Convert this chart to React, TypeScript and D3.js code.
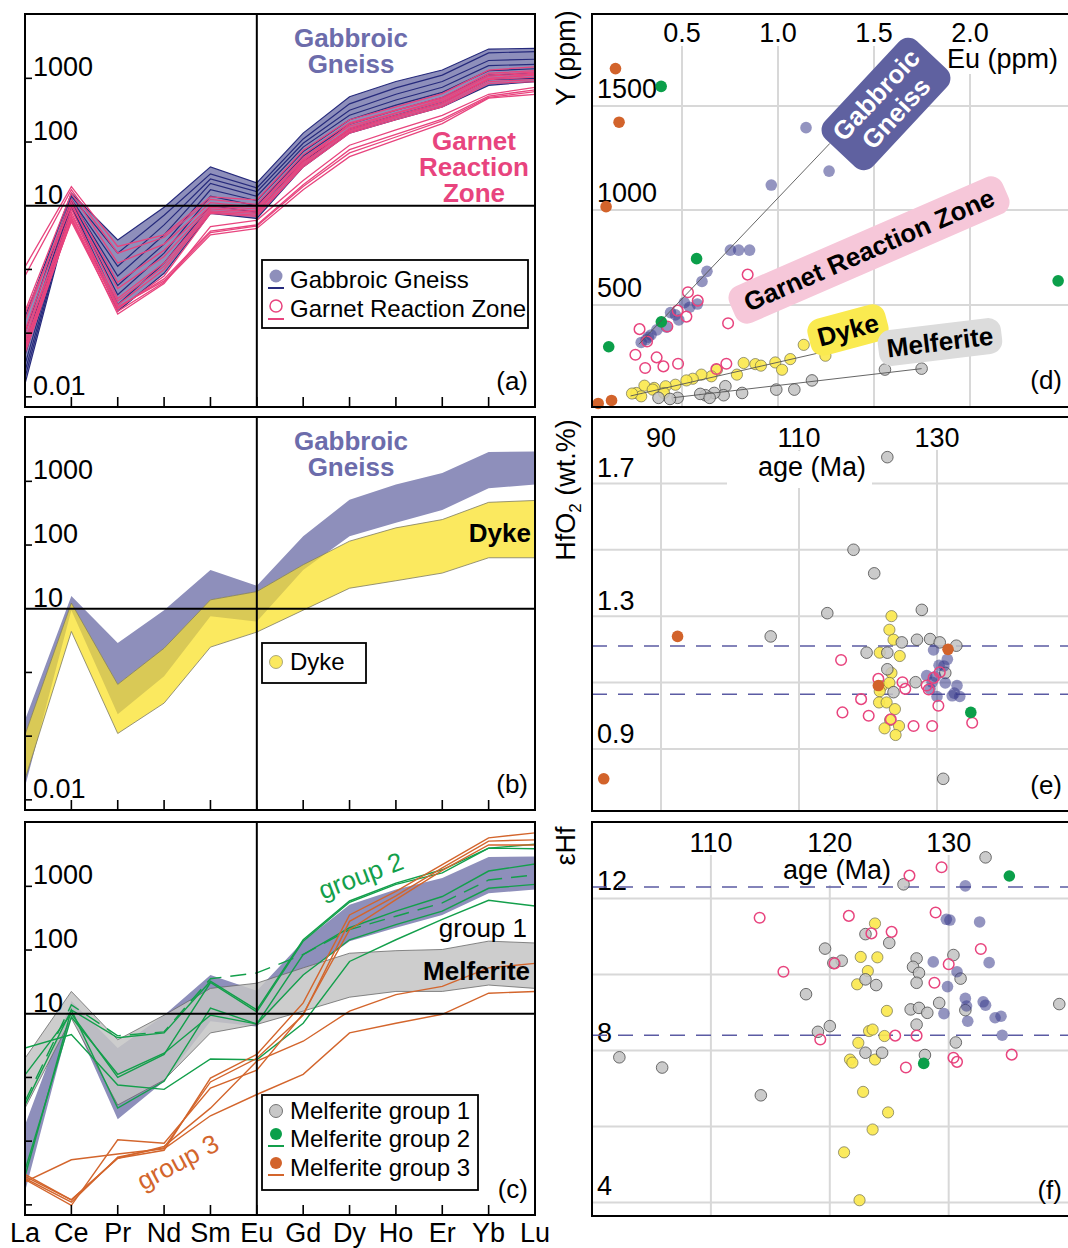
import React from 'react';
import * as d3 from 'd3';

// REE spider diagrams (a-c) and zircon scatter plots (d-f)

const REE = ['La', 'Ce', 'Pr', 'Nd', 'Sm', 'Eu', 'Gd', 'Dy', 'Ho', 'Er', 'Yb', 'Lu'];

// chondrite-normalised values
const gabbroUpper = [0.18, 15.8, 2.9, 9.5, 40.7, 22.9, 138, 513, 891, 1349, 2884, 2951];
const gabbroLower = [0.016, 9.5, 0.22, 0.87, 7.6, 6.3, 40.7, 138, 224, 355, 776, 891];

const gabbroLines = [
  [0.18, 15.8, 2.9, 9.5, 40.7, 22.9, 138, 513, 891, 1349, 2884, 2951],
  [0.1, 14.1, 1.8, 7.1, 31.6, 19, 112, 398, 708, 1122, 2512, 2630],
  [0.063, 12.6, 1.12, 5.0, 26.3, 16.6, 95.5, 316, 562, 891, 1905, 1995],
  [0.045, 12, 0.79, 3.5, 22.4, 14.1, 83.2, 263, 457, 724, 1585, 1660],
  [0.032, 11.2, 0.56, 2.5, 17.8, 12, 70.8, 224, 380, 603, 1318, 1413],
  [0.025, 10.5, 0.4, 1.8, 14.1, 10, 60.3, 191, 316, 501, 1122, 1202],
  [0.02, 10, 0.28, 1.26, 10, 7.9, 50, 158, 263, 417, 955, 1000],
  [0.016, 9.5, 0.22, 0.87, 7.6, 6.3, 40.7, 138, 224, 355, 776, 891],
];

const grzLines = [
  [1.1, 20, 2.3, 3.5, 13.8, 12.3, 74.1, 224, 355, 575, 1349, 1514],
  [0.79, 17.8, 1.8, 3.2, 12.6, 10.5, 63.1, 200, 316, 501, 1202, 1318],
  [0.22, 15.8, 1.26, 2.5, 11.2, 9.5, 56.2, 178, 288, 457, 1072, 1202],
  [0.16, 12.6, 0.63, 2.0, 10, 8.9, 52.5, 158, 263, 417, 1000, 1122],
  [0.11, 11.2, 0.35, 1.26, 8.9, 7.9, 47.9, 151, 251, 398, 955, 1047],
  [0.079, 8.9, 0.28, 1.0, 7.9, 7.1, 42.7, 145, 240, 372, 891, 955],
  [0.063, 7.9, 0.24, 0.79, 7.6, 6.8, 40.7, 138, 224, 355, 832, 891],
  [0.056, 7.1, 0.32, 1.12, 8.3, 7.6, 50, 191, 316, 479, 1122, 1259],
  [0.048, 6.3, 0.2, 0.6, 4.7, 5.9, 25, 89.1, 155, 263, 562, 724],
  [0.052, 6.0, 0.25, 0.71, 4.0, 5.0, 21.4, 75.9, 132, 229, 525, 661],
  [0.071, 5.6, 0.22, 0.63, 3.5, 4.4, 17.8, 58.9, 107, 195, 490, 562],
  [0.1, 6.6, 0.26, 0.66, 3.8, 4.8, 20, 67.6, 120, 214, 501, 617],
  [0.2, 10, 0.5, 1.6, 9.5, 8.3, 44.7, 166, 282, 437, 1000, 1148],
];

const dykeUpper = [0.105, 12.3, 0.65, 2.4, 13.8, 18.6, 49, 115, 186, 251, 468, 501];
const dykeLower = [0.021, 4.4, 0.11, 0.33, 2.5, 4.3, 9.5, 21, 27.5, 36.3, 63.1, 63.1];

const melfUpper = [2.0, 22.4, 3.9, 9.5, 25, 30.2, 52.5, 89.1, 97.7, 102, 138, 129];
const melfLower = [0.33, 8.5, 0.37, 0.91, 5.0, 6.8, 11, 18.2, 22.4, 22.4, 28.2, 25];

const group2Lines = [
  [0.37, 11.5, 4.2, 5.0, 32.4, 11.5, 145, 589, 1122, 1820, 3981, 4571],
  [1.1, 10, 1.0, 2.3, 30.9, 10.7, 138, 562, 1072, 1622, 3981, 3890],
  [0.028, 11.5, 0.33, 0.87, 12.3, 6.9, 85.1, 224, 407, 692, 1738, 2239],
  [2.9, 4.7, 0.76, 0.65, 1.95, 1.9, 7.1, 66.1, 145, 302, 603, 490],
  [0.035, 8.9, 1.12, 2.4, 9.5, 6.9, 40.7, 145, 251, 407, 933, 1072],
];
const group2Dashed = [0.42, 13.8, 4.5, 5.2, 35.5, 43.7, 85.1, 209, 339, 550, 1259, 1514];

const group3Lines = [
  [0.03, 0.012, 0.054, 0.072, 0.98, 2.3, 14.8, 355, 832, 2188, 5754, 6918],
  [0.026, 0.011, 0.056, 0.079, 0.85, 2.0, 9.5, 282, 708, 1950, 5129, 5370],
  [0.025, 0.0098, 0.105, 0.093, 0.68, 1.3, 10, 209, 617, 1778, 4467, 4467],
  [0.028, 0.012, 0.054, 0.083, 0.33, 1.8, 3.7, 11, 20, 26.9, 52.5, 61.7],
  [0.023, 0.051, 0.063, 0.076, 0.25, 0.54, 1.12, 5.0, 7.1, 9.8, 21, 22.4],
];

// (d) Eu (ppm) vs Y (ppm)
const gabD = [[1.146, 1396], [1.266, 1187], [0.965, 1120], [0.752, 789], [0.795, 789], [0.852, 789], [0.63, 677], [0.604, 624], [0.512, 512], [0.54, 488], [0.483, 420], [0.439, 459], [0.418, 381], [0.366, 367], [0.335, 340], [0.309, 314], [0.283, 300], [0.321, 328], [0.465, 447], [0.58, 505]];
const grzD = [[0.842, 660], [0.531, 567], [0.582, 523], [0.477, 470], [0.523, 438], [0.422, 385], [0.274, 371], [0.314, 305], [0.252, 234], [0.365, 220], [0.304, 163], [0.401, 172], [0.479, 186], [0.679, 158], [0.731, 186], [0.74, 402]];
const dykeD = [[1.134, 287], [1.247, 229], [1.064, 211], [0.986, 193], [1.021, 154], [0.882, 184], [0.911, 176], [0.821, 190], [0.786, 128], [0.682, 154], [0.653, 119], [0.601, 128], [0.556, 106], [0.523, 97], [0.465, 74], [0.413, 66], [0.352, 57], [0.3, 69], [0.257, 30], [0.283, 12], [0.234, 27], [0.404, 30], [0.344, 48]];
const melfD = [[1.177, 97], [1.085, 48], [0.991, 48], [0.813, 30], [0.726, 66], [0.717, 18], [0.668, 30], [0.622, 18], [0.595, 25], [0.644, 4], [0.477, 4], [0.436, -2], [0.375, 4], [1.557, 155], [1.748, 160]];
const group2D = [[0.389, 1598], [0.576, 744], [0.39, 410], [0.11, 277], [2.459, 627]];
const group3D = [[0.146, 1687], [0.165, 1422], [0.096, 1016], [0.054, -26], [0.125, -10]];
const gabTrend = [[0.27, 290], [1.27, 1320]];
const dykeTrend = [[0.226, 14], [1.226, 247]];
const melfTrend = [[0.456, 5], [1.748, 160]];

// (e) age (Ma) vs HfO2 (wt.%)
const melfE = [[122.8, 1.779], [117.9, 1.5], [120.9, 1.429], [114.1, 1.309], [105.9, 1.239], [127.8, 1.319], [127.1, 1.229], [129.0, 1.231], [130.4, 1.221], [132.8, 1.211], [124.9, 1.221], [119.8, 1.19], [122.8, 1.19], [122.8, 1.14], [123.7, 1.071], [126.9, 1.101], [131.2, 1.129], [130.9, 0.81]];
const dykeE = [[123.4, 1.3], [123.1, 1.259], [123.7, 1.229], [121.7, 1.19], [124.6, 1.18], [123.4, 1.129], [122.0, 1.089], [123.1, 1.099], [121.7, 1.074], [121.6, 1.04], [122.7, 1.04], [123.9, 1.02], [123.2, 0.987], [124.5, 0.969], [122.4, 0.962], [124.0, 0.942]];
const gabE = [[129.5, 1.198], [131.5, 1.17], [131.0, 1.15], [130.3, 1.152], [129.8, 1.119], [128.5, 1.121], [129.3, 1.101], [131.2, 1.099], [132.9, 1.091], [130.0, 1.058], [132.2, 1.06], [133.3, 1.058], [132.5, 1.068], [129.0, 1.081]];
const grzE = [[116.1, 1.168], [121.5, 1.111], [125.0, 1.101], [125.4, 1.081], [128.5, 1.091], [128.8, 1.079], [129.5, 1.114], [130.4, 1.131], [130.2, 1.03], [119.0, 1.05], [116.3, 1.01], [120.1, 1.0], [123.3, 0.989], [126.6, 0.969], [129.3, 0.969], [135.1, 0.979]];
const group2E = [[134.9, 1.01]];
const group3E = [[92.4, 1.239], [131.6, 1.2], [121.5, 1.091], [81.7, 0.81]];
const hfRef = [1.21, 1.065];

// (f) age (Ma) vs eHf
const melfF = [[133.1, 13.08], [126.2, 12.37], [102.3, 7.82], [105.9, 7.55], [114.2, 6.82], [118.0, 9.48], [119.6, 10.68], [120.0, 8.64], [119.0, 8.49], [121.0, 10.36], [120.3, 10.3], [123.0, 11.06], [125.0, 10.83], [123.0, 9.87], [123.9, 9.72], [127.3, 10.42], [127.0, 10.2], [127.5, 10.04], [127.3, 9.78], [129.2, 9.25], [126.8, 9.08], [127.5, 9.12], [128.2, 8.99], [127.3, 8.68], [130.4, 10.51], [131.0, 9.89], [131.4, 9.06], [130.6, 8.21], [128.0, 7.88], [123.0, 7.94], [124.4, 7.94], [139.3, 9.22]];
const dykeF = [[123.8, 11.34], [122.6, 10.46], [124.0, 10.45], [123.2, 10.09], [122.3, 9.74], [124.8, 9.04], [123.3, 8.51], [123.6, 8.55], [124.6, 8.38], [122.4, 8.2], [121.7, 7.76], [121.9, 7.68], [123.8, 7.76], [122.8, 6.91], [124.9, 6.37], [123.6, 5.92], [121.2, 5.32], [122.5, 4.06]];
const gabF = [[131.4, 12.33], [129.8, 11.45], [130.1, 11.43], [132.6, 11.38], [128.7, 10.33], [133.4, 10.31], [130.7, 10.07], [129.9, 9.68], [131.4, 9.37], [131.5, 9.17], [132.9, 9.28], [133.1, 9.19], [129.6, 8.97], [131.6, 8.77], [133.9, 8.86], [134.4, 8.9], [134.5, 8.4]];
const grzF = [[126.7, 12.6], [129.4, 12.82], [114.1, 11.49], [121.6, 11.54], [123.5, 11.08], [125.2, 11.12], [128.9, 11.63], [132.7, 10.67], [116.1, 10.07], [120.4, 10.29], [130.0, 10.27], [128.8, 9.78], [119.2, 8.29], [125.5, 8.39], [127.3, 8.39], [126.4, 7.55], [130.4, 7.81], [130.7, 7.7], [135.3, 7.89]];
const group2F = [[135.1, 12.59], [127.9, 7.66]];
const ehfRef = [12.3, 8.4];

const euTicks = [0.5, 1.0, 1.5, 2.0];
const yppmTicks = [500, 1000, 1500];
const ageTicksE = [90, 110, 130];
const hfGrid = [0.9, 1.1, 1.3, 1.5, 1.7];
const hfLabels = [0.9, 1.3, 1.7];
const ageTicksF = [110, 120, 130];
const ehfGrid = [4, 6, 8, 10, 12];
const ehfLabels = [4, 8, 12];
const decadeTicks = [1000, 100, 1, 0.1, 0.01];
const decadeLabels = ['1000', '100', '10', '0.01'];
const decadeLabelsC = ['1000', '100', '10'];

const FONT = '"Liberation Sans", Arial, Helvetica, sans-serif';
const C = {
  gabFill: '#8e8fbb',
  navy: '#262a7c',
  pink: '#e8447e',
  gabText: '#6c6cab',
  yellow: '#fbe95f',
  olive: '#d9c956',
  grey: '#c4c4c4',
  green: '#139f4b',
  orange: '#d3652c',
  grid: '#d8d8d8',
  dash: '#5b5ba3',
};

const PL = 25, PR = 535, PH = 393; // left panels
const RL = 592, RR = 1080; // right panels (cut by the page edge)

const xRee = d3.scalePoint<string>().domain(REE).range([PL, PR]);
const reeY = (top: number) => d3.scaleLog().domain([0.00693, 10230]).range([top + PH, top]);

const reeLine = (y: any, vals: number[]) =>
  d3.line<number>().x((_, i) => xRee(REE[i]) as number).y((d) => y(d))(vals) as string;
const reeBand = (y: any, lo: number[], hi: number[]) =>
  d3.area<number>().x((_, i) => xRee(REE[i]) as number).y0((d) => y(d)).y1((_, i) => y(hi[i]))(lo) as string;

function reeFrame(top: number, y: any, tag: string, labels: string[]) {
  const bottom = top + PH;
  return (
    <g>
      <line x1={PL} x2={PR} y1={y(10)} y2={y(10)} stroke="#000" strokeWidth={2} />
      <line x1={xRee('Eu')} x2={xRee('Eu')} y1={top} y2={bottom} stroke="#000" strokeWidth={2} />
      {REE.slice(1, 11).map((e) => (
        <line key={e} x1={xRee(e)} x2={xRee(e)} y1={bottom} y2={bottom - 10} stroke="#000" strokeWidth={1.6} />
      ))}
      {decadeTicks.map((v) => (
        <line key={v} x1={PL} x2={PL + 7} y1={y(v)} y2={y(v)} stroke="#000" strokeWidth={1.6} />
      ))}
      {labels.map((s) => (
        <text key={s} x={PL + 8} y={y(+s) - 2} fontSize={27}>{s}</text>
      ))}
      <rect x={PL} y={top} width={PR - PL} height={PH} fill="none" stroke="#000" strokeWidth={2} />
      <text x={528} y={top + 376} fontSize={26} textAnchor="end">{tag}</text>
    </g>
  );
}

function dots(data: number[][], x: any, y: any, kind: string) {
  return data.map((d, i) => {
    const cx = x(d[0]), cy = y(d[1]);
    if (kind === 'gab') return <circle key={i} cx={cx} cy={cy} r={5.8} fill="#3b3d8c" fillOpacity={0.55} />;
    if (kind === 'grz') return <circle key={i} cx={cx} cy={cy} r={5.3} fill="none" stroke={C.pink} strokeWidth={1.5} />;
    if (kind === 'dyke') return <circle key={i} cx={cx} cy={cy} r={5.6} fill="#fbe84f" fillOpacity={0.92} stroke="#6f6d50" strokeWidth={0.7} />;
    if (kind === 'melf') return <circle key={i} cx={cx} cy={cy} r={5.8} fill="#c2c2c2" fillOpacity={0.85} stroke="#4a4a4a" strokeWidth={0.8} />;
    if (kind === 'g2') return <circle key={i} cx={cx} cy={cy} r={5.8} fill="#0b9f4a" />;
    return <circle key={i} cx={cx} cy={cy} r={5.8} fill="#d2632b" />;
  });
}

function labelBg(cx: number, txt: string, y0: number, y1: number) {
  const w = txt.length * 15 + 8;
  return <rect x={cx - w / 2} y={y0} width={w} height={y1 - y0} fill="#fff" />;
}

function tagBox(cx: number, cy: number, angle: number, w: number, h: number, fill: string, lines: string[], color: string) {
  return (
    <g transform={`translate(${cx},${cy}) rotate(${angle})`}>
      <rect x={-w / 2} y={-h / 2} width={w} height={h} rx={13} fill={fill} />
      {lines.map((s, i) => (
        <text key={s} x={0} y={9 + (i - (lines.length - 1) / 2) * 27} textAnchor="middle" fontSize={26} fontWeight="bold" fill={color}>{s}</text>
      ))}
    </g>
  );
}

export default function App() {
  const yA = reeY(14), yB = reeY(417), yC = reeY(822);

  // (d)
  const xD = d3.scaleLinear().domain([0.021, 0.5, 1.0]).range([RL, 682, 778]);
  const yD = d3.scaleLinear().domain([-45, 500, 1000, 1500, 1960]).range([407, 305, 210, 106, 14]);
  // (e)
  const xE = d3.scaleLinear().domain([80, 150]).range([RL, RL + 483]);
  const yE = d3.scaleLinear().domain([0.713, 1.9]).range([811, 417]);
  // (f)
  const xF = d3.scaleLinear().domain([100, 140]).range([RL, RL + 475.6]);
  const yF = d3.scaleLinear().domain([3.645, 14.01]).range([1216, 822]);

  const trend = (pts: number[][]) => d3.line<number[]>().x((d) => xD(d[0])).y((d) => yD(d[1]))(pts) as string;

  return (
    <svg width={1068} height={1248} style={{ position: 'absolute', left: 0, top: 0 }} fontFamily={FONT}>
      <rect width={1068} height={1248} fill="#fff" />
      <defs>
        <clipPath id="clipA"><rect x={PL} y={14} width={PR - PL} height={PH} /></clipPath>
        <clipPath id="clipB"><rect x={PL} y={417} width={PR - PL} height={PH} /></clipPath>
        <clipPath id="clipC"><rect x={PL} y={822} width={PR - PL} height={PH} /></clipPath>
        <clipPath id="gabBandB"><path d={reeBand(yB, gabbroLower, gabbroUpper)} /></clipPath>
      </defs>

      {/* ---------- (a) ---------- */}
      <g clipPath="url(#clipA)">
        <path d={reeBand(yA, gabbroLower, gabbroUpper)} fill={C.gabFill} />
        {gabbroLines.map((v, i) => (
          <path key={i} d={reeLine(yA, v)} fill="none" stroke={C.navy} strokeWidth={1.2} />
        ))}
        {grzLines.map((v, i) => (
          <path key={i} d={reeLine(yA, v)} fill="none" stroke={C.pink} strokeWidth={1.3} />
        ))}
      </g>
      {reeFrame(14, yA, '(a)', decadeLabels)}
      <g fontSize={26} fontWeight="bold" textAnchor="middle">
        <text x={351} y={47} fill={C.gabText}>Gabbroic</text>
        <text x={351} y={73} fill={C.gabText}>Gneiss</text>
        <text x={474} y={150} fill={C.pink}>Garnet</text>
        <text x={474} y={176} fill={C.pink}>Reaction</text>
        <text x={474} y={202} fill={C.pink}>Zone</text>
      </g>
      <rect x={262} y={260} width={266} height={68} fill="#fff" stroke="#000" strokeWidth={1.8} />
      <circle cx={276} cy={276} r={6.5} fill={C.gabFill} />
      <line x1={268} x2={284} y1={288} y2={288} stroke={C.navy} strokeWidth={2} />
      <text x={290} y={288} fontSize={24}>Gabbroic Gneiss</text>
      <circle cx={276} cy={306} r={6} fill="none" stroke={C.pink} strokeWidth={1.5} />
      <line x1={268} x2={284} y1={319} y2={319} stroke={C.pink} strokeWidth={2} />
      <text x={290} y={317} fontSize={24}>Garnet Reaction Zone</text>

      {/* ---------- (b) ---------- */}
      <g clipPath="url(#clipB)">
        <path d={reeBand(yB, gabbroLower, gabbroUpper)} fill={C.gabFill} />
        <path d={reeBand(yB, dykeLower, dykeUpper)} fill={C.yellow} />
        <path d={reeBand(yB, dykeLower, dykeUpper)} fill={C.olive} clipPath="url(#gabBandB)" />
        <path d={reeBand(yB, dykeLower, dykeUpper)} fill="none" stroke="#7d7b62" strokeWidth={0.8} />
      </g>
      {reeFrame(417, yB, '(b)', decadeLabels)}
      <g fontSize={26} fontWeight="bold" textAnchor="middle" fill={C.gabText}>
        <text x={351} y={450}>Gabbroic</text>
        <text x={351} y={476}>Gneiss</text>
      </g>
      <text x={531} y={542} fontSize={26} fontWeight="bold" textAnchor="end">Dyke</text>
      <rect x={262} y={643} width={104} height={40} fill="#fff" stroke="#000" strokeWidth={1.8} />
      <circle cx={276} cy={662} r={6.5} fill={C.yellow} stroke="#8a8760" strokeWidth={0.7} />
      <text x={290} y={670} fontSize={24}>Dyke</text>

      {/* ---------- (c) ---------- */}
      <g clipPath="url(#clipC)">
        <path d={reeBand(yC, gabbroLower, gabbroUpper)} fill={C.gabFill} />
        <path d={reeBand(yC, melfLower, melfUpper)} fill={C.grey} fillOpacity={0.85} stroke="#6a6a6a" strokeWidth={0.8} />
        {group2Lines.map((v, i) => (
          <path key={i} d={reeLine(yC, v)} fill="none" stroke={C.green} strokeWidth={1.4} />
        ))}
        <path d={reeLine(yC, group2Dashed)} fill="none" stroke={C.green} strokeWidth={1.4} strokeDasharray="16 9" />
        {group3Lines.map((v, i) => (
          <path key={i} d={reeLine(yC, v)} fill="none" stroke={C.orange} strokeWidth={1.4} />
        ))}
      </g>
      {reeFrame(822, yC, '(c)', decadeLabelsC)}
      <text transform="translate(364,884) rotate(-21)" fontSize={26} textAnchor="middle" fill={C.green}>group 2</text>
      <text x={527} y={937} fontSize={26} textAnchor="end">group 1</text>
      <text x={530} y={980} fontSize={26} fontWeight="bold" textAnchor="end">Melferite</text>
      <text transform="translate(182,1170) rotate(-28)" fontSize={26} textAnchor="middle" fill={C.orange}>group 3</text>
      <rect x={262} y={1095} width={216} height={95} fill="#fff" stroke="#000" strokeWidth={1.8} />
      <circle cx={276} cy={1111} r={6.5} fill="#c8c8c8" stroke="#555" strokeWidth={0.8} />
      <text x={290} y={1119} fontSize={24}>Melferite group 1</text>
      <circle cx={276} cy={1134} r={6} fill="#0b9f4a" />
      <line x1={268} x2={284} y1={1146} y2={1146} stroke={C.green} strokeWidth={2} />
      <text x={290} y={1147} fontSize={24}>Melferite group 2</text>
      <circle cx={276} cy={1163} r={6} fill="#d2632b" />
      <line x1={268} x2={284} y1={1175} y2={1175} stroke={C.orange} strokeWidth={2} />
      <text x={290} y={1176} fontSize={24}>Melferite group 3</text>
      {REE.map((e) => (
        <text key={e} x={xRee(e)} y={1242} fontSize={27} textAnchor="middle">{e}</text>
      ))}

      {/* ---------- (d) ---------- */}
      {euTicks.map((v) => (
        <line key={v} x1={xD(v)} x2={xD(v)} y1={14} y2={407} stroke={C.grid} strokeWidth={2} />
      ))}
      {yppmTicks.map((v) => (
        <line key={v} x1={RL} x2={RR} y1={yD(v)} y2={yD(v)} stroke={C.grid} strokeWidth={2} />
      ))}
      {euTicks.map((v) => (
        <g key={v}>
          {labelBg(xD(v), v.toFixed(1), 15, 46)}
          <text x={xD(v)} y={42} fontSize={27} textAnchor="middle">{v.toFixed(1)}</text>
        </g>
      ))}
      <rect x={943} y={46} width={130} height={28} fill="#fff" />
      <text x={947} y={68} fontSize={27}>Eu (ppm)</text>
      {yppmTicks.map((v) => (
        <text key={v} x={597} y={yD(v) - 8} fontSize={27}>{v}</text>
      ))}
      {dots(dykeD, xD, yD, 'dyke')}
      {dots(melfD, xD, yD, 'melf')}
      {dots(gabD, xD, yD, 'gab')}
      {dots(grzD, xD, yD, 'grz')}
      {dots(group2D, xD, yD, 'g2')}
      {dots(group3D, xD, yD, 'g3')}
      <path d={trend(gabTrend)} fill="none" stroke="#555" strokeWidth={0.9} />
      <path d={trend(dykeTrend)} fill="none" stroke="#555" strokeWidth={0.9} />
      <path d={trend(melfTrend)} fill="none" stroke="#555" strokeWidth={0.9} />
      {tagBox(886, 104, -47, 134, 66, '#5f61a0', ['Gabbroic', 'Gneiss'], '#fff')}
      {tagBox(869, 250, -23.5, 298, 40, '#f6c7d9', ['Garnet Reaction Zone'], '#000')}
      {tagBox(848, 330, -15, 80, 38, '#faea50', ['Dyke'], '#000')}
      {tagBox(940, 342, -7, 124, 36, '#dcdcdc', ['Melferite'], '#000')}
      <rect x={RL} y={14} width={RR - RL} height={393} fill="none" stroke="#000" strokeWidth={2} />
      <text x={1062} y={389} fontSize={26} textAnchor="end">(d)</text>
      <text transform="translate(575,58) rotate(-90)" fontSize={27} textAnchor="middle">Y (ppm)</text>

      {/* ---------- (e) ---------- */}
      {ageTicksE.map((v) => (
        <line key={v} x1={xE(v)} x2={xE(v)} y1={417} y2={811} stroke={C.grid} strokeWidth={2} />
      ))}
      {hfGrid.map((v) => (
        <line key={v} x1={RL} x2={RR} y1={yE(v)} y2={yE(v)} stroke={C.grid} strokeWidth={2} />
      ))}
      {ageTicksE.map((v) => (
        <g key={v}>
          {labelBg(xE(v), String(v), 418, 450)}
          <text x={xE(v)} y={447} fontSize={27} textAnchor="middle">{v}</text>
        </g>
      ))}
      <rect x={727} y={451} width={145} height={37} fill="#fff" />
      <text x={812} y={476} fontSize={27} textAnchor="middle">age (Ma)</text>
      {hfLabels.map((v) => (
        <text key={v} x={597} y={yE(v) - 6} fontSize={27}>{v.toFixed(1)}</text>
      ))}
      {hfRef.map((v) => (
        <line key={v} x1={RL} x2={RR} y1={yE(v)} y2={yE(v)} stroke={C.dash} strokeWidth={1.5} strokeDasharray="15 11" />
      ))}
      {dots(dykeE, xE, yE, 'dyke')}
      {dots(melfE, xE, yE, 'melf')}
      {dots(gabE, xE, yE, 'gab')}
      {dots(grzE, xE, yE, 'grz')}
      {dots(group2E, xE, yE, 'g2')}
      {dots(group3E, xE, yE, 'g3')}
      <rect x={RL} y={417} width={RR - RL} height={394} fill="none" stroke="#000" strokeWidth={2} />
      <text x={1062} y={794} fontSize={26} textAnchor="end">(e)</text>
      <text transform="translate(575,490) rotate(-90)" fontSize={27} textAnchor="middle">
        HfO<tspan fontSize={17} dy={6}>2</tspan><tspan dy={-6}> (wt.%)</tspan>
      </text>

      {/* ---------- (f) ---------- */}
      {ageTicksF.map((v) => (
        <line key={v} x1={xF(v)} x2={xF(v)} y1={822} y2={1216} stroke={C.grid} strokeWidth={2} />
      ))}
      {ehfGrid.map((v) => (
        <line key={v} x1={RL} x2={RR} y1={yF(v)} y2={yF(v)} stroke={C.grid} strokeWidth={2} />
      ))}
      {ageTicksF.map((v) => (
        <g key={v}>
          {labelBg(xF(v), String(v), 823, 855)}
          <text x={xF(v)} y={852} fontSize={27} textAnchor="middle">{v}</text>
        </g>
      ))}
      <rect x={773} y={856} width={127} height={29} fill="#fff" />
      <text x={837} y={879} fontSize={27} textAnchor="middle">age (Ma)</text>
      {ehfLabels.map((v) => (
        <text key={v} x={597} y={yF(v) - 8} fontSize={27}>{v}</text>
      ))}
      {ehfRef.map((v) => (
        <line key={v} x1={RL} x2={RR} y1={yF(v)} y2={yF(v)} stroke={C.dash} strokeWidth={1.5} strokeDasharray="15 11" />
      ))}
      {dots(dykeF, xF, yF, 'dyke')}
      {dots(melfF, xF, yF, 'melf')}
      {dots(gabF, xF, yF, 'gab')}
      {dots(grzF, xF, yF, 'grz')}
      {dots(group2F, xF, yF, 'g2')}
      <rect x={RL} y={822} width={RR - RL} height={394} fill="none" stroke="#000" strokeWidth={2} />
      <text x={1062} y={1199} fontSize={26} textAnchor="end">(f)</text>
      <text transform="translate(575,846) rotate(-90)" fontSize={27} textAnchor="middle">εHf</text>
    </svg>
  );
}
